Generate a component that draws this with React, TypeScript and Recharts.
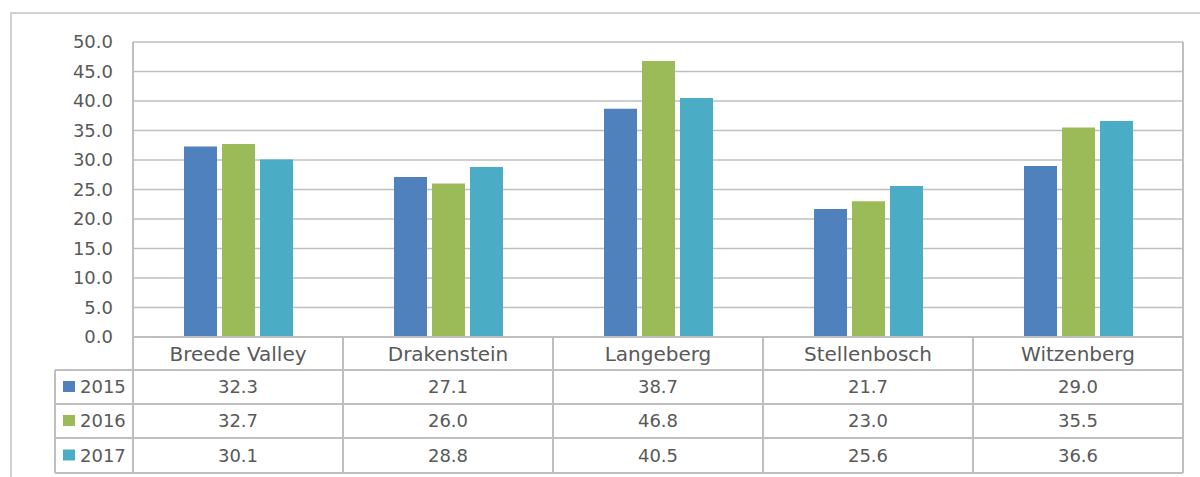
import React from "react";
import { Bar, BarChart, CartesianGrid, XAxis, YAxis } from "recharts";

const categories = ["Breede Valley", "Drakenstein", "Langeberg", "Stellenbosch", "Witzenberg"];
const years = ["2015", "2016", "2017"];
const values2015 = [32.3, 27.1, 38.7, 21.7, 29.0];
const values2016 = [32.7, 26.0, 46.8, 23.0, 35.5];
const values2017 = [30.1, 28.8, 40.5, 25.6, 36.6];
const yTicks = [0, 5, 10, 15, 20, 25, 30, 35, 40, 45, 50];

const colors = ["#4f81bd", "#9bbb59", "#4bacc6"];
const seriesValues = [values2015, values2016, values2017];

const data = categories.map((name, i) => ({
  name,
  y2015: values2015[i],
  y2016: values2016[i],
  y2017: values2017[i],
}));

const W = 1200;
const H = 477;
const LEFT = 133;
const RIGHT = 17;
const TOP = 42;
const AXIS_H = 140;
const BAND = (W - LEFT - RIGHT) / categories.length;
const PLOT_H = H - TOP - AXIS_H;
const ROWS = [0, 33, 67, 101, 136]; // table row edges below the x axis
const LINE = "#bfbfbf";
const TEXT = "#595959";
const FONT = "'DejaVu Sans', sans-serif";

// category name + one value per series, with the table borders around it
function TableTick(props: any) {
  const { x, y, payload, index } = props;
  const left = x - BAND / 2;
  const right = x + BAND / 2;
  const last = index === categories.length - 1;
  const mid = (a: number, b: number) => y + (ROWS[a] + ROWS[b]) / 2;
  return (
    <g>
      {index === 0 && (
        <g>
          {ROWS.slice(1).map((r) => (
            <line key={r} x1={left - 78} x2={left + BAND * categories.length} y1={y + r} y2={y + r} stroke={LINE} strokeWidth={2} />
          ))}
          <line x1={left - 78} x2={left - 78} y1={y + ROWS[1]} y2={y + ROWS[4]} stroke={LINE} strokeWidth={2} />
          <line x1={left} x2={left} y1={y} y2={y + ROWS[4]} stroke={LINE} strokeWidth={2} />
          {years.map((yr, k) => (
            <g key={yr}>
              <rect x={left - 70} y={mid(k + 1, k + 2) - 6} width={12} height={11} fill={colors[k]} />
              <text x={left - 53} y={mid(k + 1, k + 2)} dy="0.35em" fontSize={18} fontFamily={FONT} fill={TEXT}>
                {yr}
              </text>
            </g>
          ))}
        </g>
      )}
      <line
        x1={right}
        x2={right}
        y1={last ? y - PLOT_H : y}
        y2={y + ROWS[4]}
        stroke={LINE}
        strokeWidth={2}
      />
      <text x={x} y={mid(0, 1)} dy="0.35em" textAnchor="middle" fontSize={20} fontFamily={FONT} fill={TEXT}>
        {payload.value}
      </text>
      {seriesValues.map((vals, k) => (
        <text key={k} x={x} y={mid(k + 1, k + 2)} dy="0.35em" textAnchor="middle" fontSize={18} fontFamily={FONT} fill={TEXT}>
          {vals[index].toFixed(1)}
        </text>
      ))}
    </g>
  );
}

export default function App() {
  return (
    <div style={{ position: "absolute", left: 0, top: 0, width: W, height: H, background: "#fff", overflow: "hidden" }}>
      <div
        style={{
          position: "absolute",
          left: 10,
          top: 12,
          width: W,
          height: H,
          borderLeft: "2px solid #d0d0d0",
          borderTop: "2px solid #d0d0d0",
        }}
      />
      <div style={{ position: "absolute", left: 0, top: 0 }}>
        <BarChart
          width={W}
          height={H}
          data={data}
          margin={{ top: TOP, right: RIGHT, bottom: 0, left: 0 }}
          barSize={33}
          barGap={5}
        >
          <CartesianGrid vertical={false} stroke={LINE} strokeWidth={1.5} />
          <XAxis
            dataKey="name"
            height={AXIS_H}
            interval={0}
            tickLine={false}
            tickSize={0}
            tickMargin={0}
            axisLine={{ stroke: LINE, strokeWidth: 2 }}
            tick={<TableTick />}
          />
          <YAxis
            width={LEFT}
            domain={[0, 50]}
            ticks={yTicks}
            tickLine={false}
            tickSize={0}
            tickMargin={20}
            axisLine={{ stroke: LINE, strokeWidth: 2 }}
            tickFormatter={(v: number) => v.toFixed(1)}
            tick={{ fill: TEXT, fontSize: 18, fontFamily: FONT }}
          />
          <Bar dataKey="y2015" fill={colors[0]} isAnimationActive={false} />
          <Bar dataKey="y2016" fill={colors[1]} isAnimationActive={false} />
          <Bar dataKey="y2017" fill={colors[2]} isAnimationActive={false} />
        </BarChart>
      </div>
    </div>
  );
}
